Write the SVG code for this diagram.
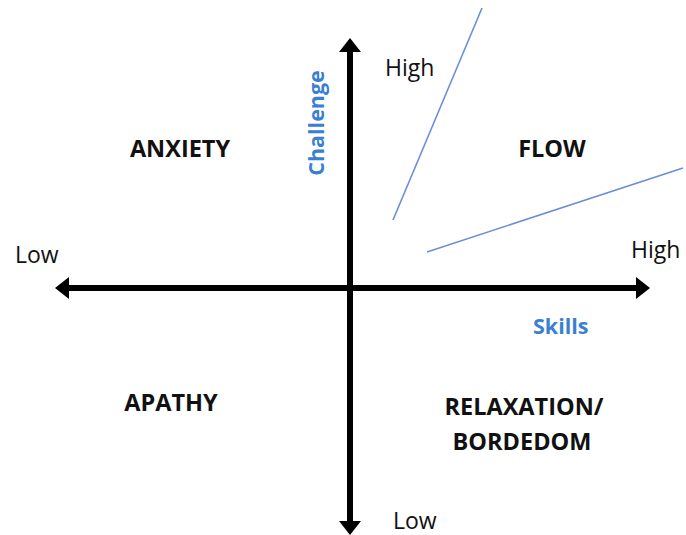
<svg xmlns="http://www.w3.org/2000/svg" width="686" height="535" viewBox="0 0 686 535">
<style>
.lbl{font-family:"Open Sans","Liberation Sans",sans-serif;font-size:23px;fill:#111}
.q{font-family:"Open Sans","Liberation Sans",sans-serif;font-size:23.5px;font-weight:bold;fill:#111;text-anchor:middle}
.ax{font-family:"Open Sans","Liberation Sans",sans-serif;font-size:21.5px;font-weight:bold;fill:#3a7fd2}
.axis{stroke:#000;stroke-width:6;fill:none}
.flow{stroke:#6a8fd6;stroke-width:1.6}
</style>
<rect width="686" height="535" fill="#fff"/>
<g id="connectors">
<line class="axis" x1="68" y1="288" x2="637" y2="288"/>
<polygon points="55,288 69,277 69,299"/>
<polygon points="650,288 636,277 636,299"/>
<line class="axis" x1="350" y1="52" x2="350" y2="522"/>
<polygon points="350,38 339,52 361,52"/>
<polygon points="350,535 339,521 361,521"/>
<line class="flow" x1="482" y1="8" x2="393" y2="220"/>
<line class="flow" x1="427" y1="252" x2="683" y2="168"/>
</g>
<g id="anxiety"><text class="q" x="180" y="157">ANXIETY</text></g>
<g id="flow"><text class="q" x="552" y="157">FLOW</text></g>
<g id="apathy"><text class="q" x="171" y="411">APATHY</text></g>
<g id="relaxation"><text class="q" x="524" y="415">RELAXATION/</text><text class="q" x="522" y="450">BORDEDOM</text></g>
<g id="labels">
<text class="lbl" x="385" y="76">High</text>
<text class="lbl" x="15" y="263">Low</text>
<text class="lbl" x="631" y="258">High</text>
<text class="lbl" x="393" y="529">Low</text>
<text class="ax" x="533" y="334">Skills</text>
<text class="ax" transform="translate(324,123) rotate(-90)" text-anchor="middle">Challenge</text>
</g>
</svg>
